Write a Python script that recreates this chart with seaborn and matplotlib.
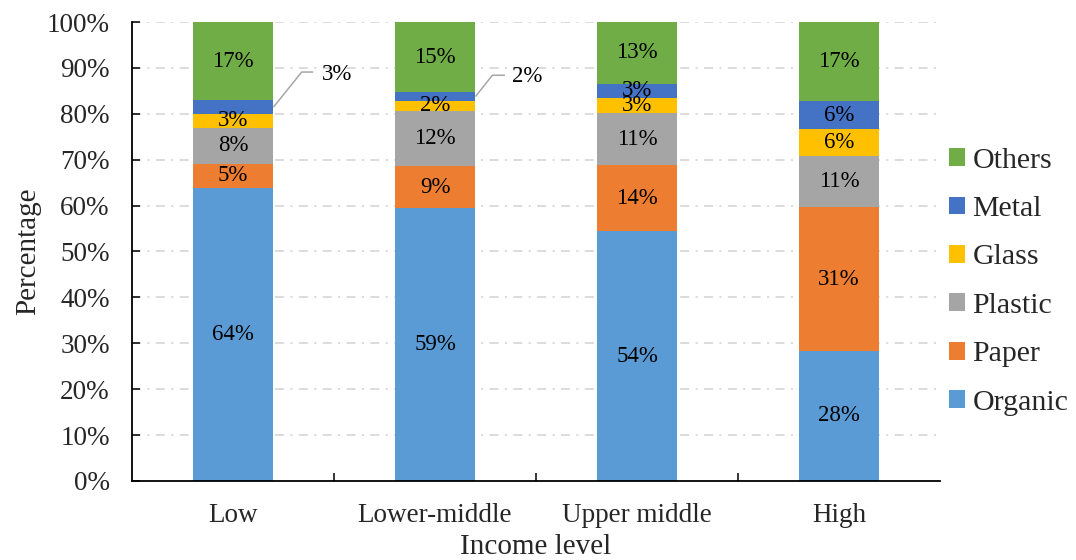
import numpy as np
import pandas as pd
import seaborn as sns
import matplotlib.pyplot as plt
from matplotlib.patches import Patch

# Waste composition (%) by income level
income_levels = ["Low", "Lower-middle", "Upper middle", "High"]
organic = [63.9, 59.4, 54.4, 28.4]
paper = [5.1, 9.3, 14.4, 31.2]
plastic = [8.0, 12.0, 11.3, 11.1]
glass = [3.0, 2.1, 3.3, 6.0]
metal = [2.9, 1.9, 3.2, 6.0]
others = [17.1, 15.3, 13.4, 17.3]

materials = ["Organic", "Paper", "Plastic", "Glass", "Metal", "Others"]
series = [organic, paper, plastic, glass, metal, others]
colors = {
    "Organic": "#5B9BD5",
    "Paper": "#ED7D31",
    "Plastic": "#A5A5A5",
    "Glass": "#FFC000",
    "Metal": "#4472C4",
    "Others": "#70AD47",
}

sns.set_theme(style="white")
plt.rcParams["font.family"] = ["Liberation Serif", "DejaVu Serif"]

# long table with stacked bounds
rows = []
for mat, vals in zip(materials, series):
    for lvl, v in zip(income_levels, vals):
        rows.append({"Income level": lvl, "Material": mat, "Value": v})
df = pd.DataFrame(rows)
df["Top"] = df.groupby("Income level")["Value"].cumsum()
df["Bottom"] = df["Top"] - df["Value"]

fig = plt.figure(figsize=(10.76, 5.60), dpi=100)
ax = fig.add_axes([0.1227, 0.1411, 0.7509, 0.8196])

# draw cumulative tops from the outermost layer inward
bar_w = 0.4
for mat in reversed(materials):
    sub = df[df["Material"] == mat]
    sns.barplot(data=sub, x="Income level", y="Top", order=income_levels,
                color=colors[mat], saturation=1, width=bar_w, errorbar=None,
                linewidth=0, ax=ax)

# value labels; thin segments get a leader line (offsets from bar centre)
callouts = {
    ("Low", "Metal"): dict(elbow=(0.34, 89.1), end=0.3975, text=(0.439, 88.5)),
    ("Lower-middle", "Metal"): dict(elbow=(0.284, 88.4), end=0.3465, text=(0.381, 88.1)),
}
label_fs = 16.5
for _, r in df.iterrows():
    i = income_levels.index(r["Income level"])
    mid = (r["Top"] + r["Bottom"]) / 2
    txt = f"{r['Value']:.0f}%"
    key = (r["Income level"], r["Material"])
    if key in callouts:
        c = callouts[key]
        x0 = i + bar_w / 2
        ax.plot([x0, i + c["elbow"][0], i + c["end"]],
                [mid, c["elbow"][1], c["elbow"][1]],
                color="#A6A6A6", lw=1.1, solid_capstyle="butt", zorder=4,
                clip_on=False)
        ax.text(i + c["text"][0], c["text"][1], txt, ha="left", va="center",
                fontsize=label_fs, color="black", zorder=5)
    else:
        ax.text(i, mid, txt, ha="center", va="center",
                fontsize=label_fs, color="black", zorder=5)

# axes styling
ax.set_xlim(-0.5, 3.5)
ax.set_ylim(0, 100)
ax.set_yticks(np.arange(0, 101, 10))
ax.set_yticklabels([f"{t}%" for t in range(0, 101, 10)])
for y in range(10, 101, 10):
    ax.axhline(y, color="#D9D9D9", lw=1.3, linestyle=(0, (5, 3.5, 1.2, 3.5)),
               zorder=0)
ax.set_axisbelow(True)

for s in ["top", "right"]:
    ax.spines[s].set_visible(False)
for s in ["left", "bottom"]:
    ax.spines[s].set_color("black")
    ax.spines[s].set_linewidth(1.3)

ax.tick_params(axis="y", which="major", direction="in", length=6, width=1.1,
               color="black", pad=16, labelsize=19.5, left=True)
ax.tick_params(axis="x", which="major", length=0, pad=16, labelsize=19.5)
ax.set_xticks([0.5, 1.5, 2.5], minor=True)
ax.tick_params(axis="x", which="minor", direction="in", length=6, width=1.1,
               color="black", bottom=True)

ax.set_xlabel("Income level", fontsize=21)
ax.set_ylabel("Percentage", fontsize=21)
ax.xaxis.set_label_coords(0.5, -0.143)
ax.xaxis.label.set_va("center")
ax.yaxis.set_label_coords(-0.128, 0.5)
ax.yaxis.label.set_va("center")

handles = [Patch(facecolor=colors[m], edgecolor="none", label=m)
           for m in reversed(materials)]
fig.legend(handles=handles, loc="center left", bbox_to_anchor=(0.882, 0.497),
           frameon=False, fontsize=21.5, handlelength=0.54, handleheight=0.54,
           handletextpad=0.25, labelspacing=0.75, borderaxespad=0, borderpad=0)

fig.savefig("out.png", dpi=100)
